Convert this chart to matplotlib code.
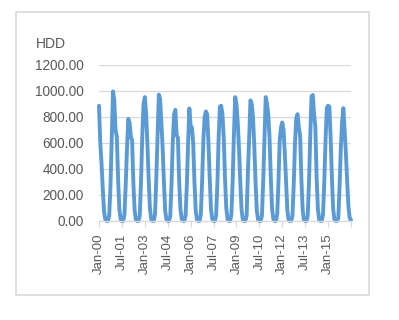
import numpy as np
import matplotlib
matplotlib.use("Agg")
import matplotlib.pyplot as plt
from matplotlib.patches import Rectangle

# monthly HDD, Jan..Dec per year
hdd_2000 = [887, 600, 440, 240, 70, 10, 0, 0, 40, 260, 620, 997]
hdd_2001 = [930, 700, 650, 320, 90, 15, 0, 0, 50, 280, 560, 786]
hdd_2002 = [760, 650, 620, 290, 80, 10, 0, 0, 40, 300, 650, 900]
hdd_2003 = [953, 830, 600, 330, 100, 15, 0, 0, 50, 320, 660, 972]
hdd_2004 = [940, 760, 560, 300, 80, 10, 0, 0, 40, 290, 620, 820]
hdd_2005 = [855, 660, 640, 300, 90, 15, 0, 0, 40, 270, 600, 866]
hdd_2006 = [730, 720, 600, 300, 80, 10, 0, 0, 50, 300, 620, 800]
hdd_2007 = [843, 820, 600, 330, 90, 15, 0, 0, 40, 280, 640, 880]
hdd_2008 = [887, 820, 640, 330, 100, 15, 0, 0, 50, 300, 660, 953]
hdd_2009 = [900, 760, 560, 300, 90, 10, 0, 0, 40, 380, 640, 928]
hdd_2010 = [900, 800, 580, 300, 80, 10, 0, 0, 40, 300, 640, 953]
hdd_2011 = [900, 820, 640, 330, 90, 15, 0, 0, 50, 300, 620, 720]
hdd_2012 = [758, 700, 520, 300, 80, 10, 0, 0, 40, 280, 600, 790]
hdd_2013 = [822, 720, 660, 330, 90, 10, 0, 0, 40, 300, 660, 960]
hdd_2014 = [969, 820, 720, 330, 90, 10, 0, 0, 50, 300, 620, 870]
hdd_2015 = [887, 880, 640, 330, 90, 10, 0, 0, 20, 260, 560, 760]
hdd_2016 = [868, 700, 520, 300, 110, 20, 10]

tick_labels = ["Jan-00", "Jul-01", "Jan-03", "Jul-04", "Jan-06", "Jul-07",
               "Jan-09", "Jul-10", "Jan-12", "Jul-13", "Jan-15", ""]

hdd = (hdd_2000 + hdd_2001 + hdd_2002 + hdd_2003 + hdd_2004 + hdd_2005
       + hdd_2006 + hdd_2007 + hdd_2008 + hdd_2009 + hdd_2010 + hdd_2011
       + hdd_2012 + hdd_2013 + hdd_2014 + hdd_2015 + hdd_2016)
months = np.arange(len(hdd))

plt.rcParams['font.family'] = ['Liberation Sans', 'DejaVu Sans']
grey = '#595959'
light = '#d9d9d9'

fig = plt.figure(figsize=(3.99, 3.2), dpi=100)
fig.patches.append(Rectangle((16 / 399, 1 - 295 / 320), 353 / 399, 283 / 320,
                             transform=fig.transFigure, fill=False,
                             edgecolor=light, linewidth=1.2))

ax = fig.add_axes([99 / 399, 1 - 221 / 320, 252 / 399, 156 / 320])
ax.plot(months, hdd, color='#5B9BD5', linewidth=2.8,
        solid_joinstyle='round', solid_capstyle='round', clip_on=False)

ax.set_xlim(0, len(hdd) - 1)
ax.set_ylim(0, 1200)
ax.set_yticks(np.arange(0, 1201, 200))
ax.set_yticklabels(["%.2f" % v for v in np.arange(0, 1201, 200)])
ax.set_xticks(np.arange(0, len(hdd), 18))
ax.set_xticklabels(tick_labels, rotation=90)

ax.grid(axis='y', color=light, linewidth=0.9)
ax.set_axisbelow(True)
for s in ['top', 'right', 'left']:
    ax.spines[s].set_visible(False)
ax.spines['bottom'].set_color(light)
ax.spines['bottom'].set_linewidth(0.9)
ax.tick_params(axis='y', length=0, pad=11, labelsize=9.8, labelcolor=grey)
ax.tick_params(axis='x', length=4, color=light, width=0.9, pad=5,
               labelsize=9.5, labelcolor=grey)

fig.text(36 / 399, 1 - 44 / 320, "HDD", fontsize=10, color=grey,
         va='center', ha='left')

fig.savefig("out.png", dpi=100)
